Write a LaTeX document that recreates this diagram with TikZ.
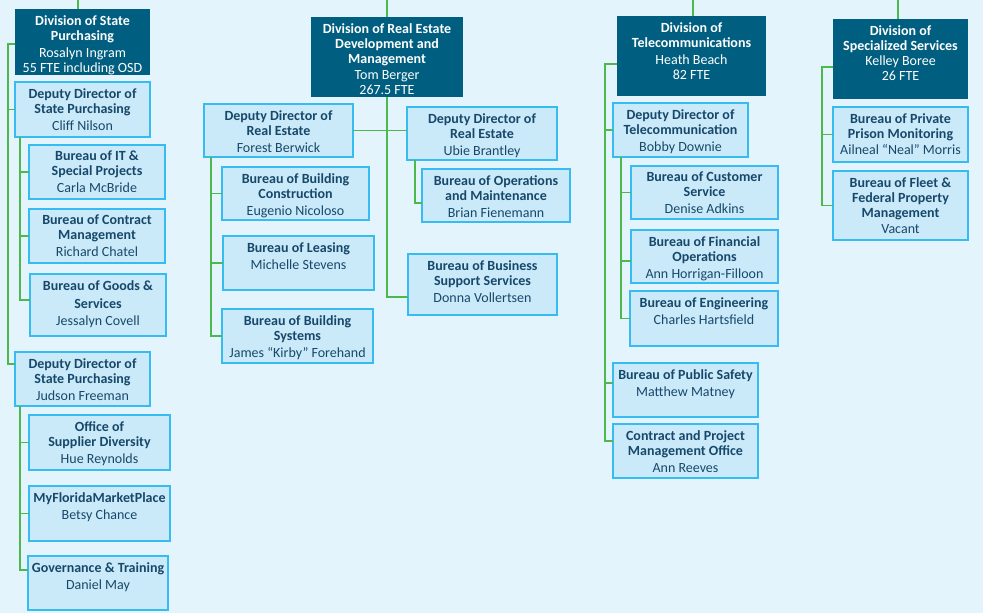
\documentclass[tikz,border=0pt]{standalone}
\usepackage{fontspec}
\setmainfont{Carlito}
\usetikzlibrary{calc}
\definecolor{bgc}{HTML}{E4F4FC}
\definecolor{darkbox}{HTML}{005F80}
\definecolor{lightfill}{HTML}{CAEAFA}
\definecolor{lightline}{HTML}{36BCF0}
\definecolor{navy}{HTML}{17486A}
\definecolor{conngreen}{HTML}{4DB84E}
\tikzset{
  dbox/.style={rectangle,fill=darkbox,draw=none,inner sep=0pt,outer sep=0pt},
  lbox/.style={rectangle,fill=lightfill,draw=lightline,line width=1.2pt,inner sep=0pt,outer sep=0pt},
  dboxtxt/.style={text=white,align=center,inner sep=0pt,font=\fontsize{14}{15}\selectfont},
  lboxtxt/.style={text=navy,align=center,inner sep=0pt,font=\fontsize{14}{15}\selectfont},
  conn/.style={draw=conngreen,line width=1.8pt}
}
\newcommand\tb[1]{\textbf{#1}}
\newcommand\bx[7]{%
  \node[#6,anchor=north west,minimum width={#4pt-#2pt},minimum height={#5pt-#3pt}] (#1) at (#2,#3) {};
  \node[#6txt,anchor=north] (#1t) at ([yshift=-6pt]#1.north) {#7};}
\begin{document}
\begin{tikzpicture}[x=1pt,y=-1pt]
\useasboundingbox (0,0) rectangle (983,613);
\fill[bgc] (0,0) rectangle (983,613);
% ---------- column 1
\bx{divsp}{15}{9}{150}{75}{dbox}{\tb{Division of State}\\\tb{Purchasing}\\[2pt]Rosalyn Ingram\\55 FTE including OSD}
\bx{cliff}{15}{82}{150}{137}{lbox}{\tb{Deputy Director of}\\\tb{State Purchasing}\\[2pt]Cliff Nilson}
\bx{it}{29}{145}{165}{199}{lbox}{\tb{Bureau of IT \&}\\\tb{Special Projects}\\[2pt]Carla McBride}
\bx{cm}{29}{209}{165}{263}{lbox}{\tb{Bureau of Contract}\\\tb{Management}\\[2pt]Richard Chatel}
\bx{goods}{30}{274}{166}{336}{lbox}{\tb{Bureau of Goods \&}\\[3pt]\tb{Services}\\[2pt]Jessalyn Covell}
\bx{judson}{15}{352}{150}{406}{lbox}{\tb{Deputy Director of}\\\tb{State Purchasing}\\[2pt]Judson Freeman}
\bx{osd}{29}{415}{170}{470}{lbox}{\tb{Office of}\\\tb{Supplier Diversity}\\[2pt]Hue Reynolds}
\bx{mfmp}{29}{486}{170}{541}{lbox}{\tb{MyFloridaMarketPlace}\\[2pt]Betsy Chance}
\bx{gov}{28}{556}{168}{610}{lbox}{\tb{Governance \& Training}\\[2pt]Daniel May}
% ---------- column 2
\bx{divre}{311}{17}{463}{97}{dbox}{\tb{Division of Real Estate}\\\tb{Development and}\\\tb{Management}\\[1pt]Tom Berger\\267.5 FTE}
\bx{forest}{204}{104}{353}{157}{lbox}{\tb{Deputy Director of}\\\tb{Real Estate}\\[2pt]Forest Berwick}
\bx{bc}{222}{167}{369}{220}{lbox}{\tb{Bureau of Building}\\\tb{Construction}\\[2pt]Eugenio Nicoloso}
\bx{leas}{223}{236}{374}{290}{lbox}{\tb{Bureau of Leasing}\\[2pt]Michelle Stevens}
\bx{sys}{222}{309}{373}{363}{lbox}{\tb{Bureau of Building}\\\tb{Systems}\\[2pt]James “Kirby” Forehand}
\bx{ubie}{407}{107}{557}{160}{lbox}{\tb{Deputy Director of}\\\tb{Real Estate}\\[2pt]Ubie Brantley}
\bx{om}{422}{169}{570}{222}{lbox}{\tb{Bureau of Operations}\\\tb{and Maintenance}\\[2pt]Brian Fienemann}
\bx{bus}{408}{254}{557}{315}{lbox}{\tb{Bureau of Business}\\\tb{Support Services}\\[2pt]Donna Vollertsen}
% ---------- column 3
\bx{divtc}{617}{16}{766}{96}{dbox}{\tb{Division of}\\\tb{Telecommunications}\\[2pt]Heath Beach\\82 FTE}
\bx{bobby}{613}{103}{748}{157}{lbox}{\tb{Deputy Director of}\\\tb{Telecommunication}\\[2pt]Bobby Downie}
\bx{cs}{631}{166}{778}{219}{lbox}{\tb{Bureau of Customer}\\\tb{Service}\\[2pt]Denise Adkins}
\bx{fo}{631}{230}{778}{283}{lbox}{\tb{Bureau of Financial}\\\tb{Operations}\\[2pt]Ann Horrigan-Filloon}
\bx{eng}{630}{291}{778}{346}{lbox}{\tb{Bureau of Engineering}\\[2pt]Charles Hartsfield}
\bx{ps}{613}{363}{758}{417}{lbox}{\tb{Bureau of Public Safety}\\[2pt]Matthew Matney}
\bx{cpm}{613}{424}{758}{478}{lbox}{\tb{Contract and Project}\\\tb{Management Office}\\[2pt]Ann Reeves}
% ---------- column 4
\bx{divss}{833}{19}{968}{99}{dbox}{\tb{Division of}\\\tb{Specialized Services}\\Kelley Boree\\26 FTE}
\bx{pp}{833}{107}{968}{162}{lbox}{\tb{Bureau of Private}\\\tb{Prison Monitoring}\\[1pt]Ailneal “Neal” Morris}
\bx{fleet}{833}{171}{968}{240}{lbox}{\tb{Bureau of Fleet \&}\\\tb{Federal Property}\\\tb{Management}\\[1pt]Vacant}
% ---------- trunk coordinates
\coordinate (t1) at (8,0);
\coordinate (t2) at (20,0);
\coordinate (t3) at (211,0);
\coordinate (t4) at (415,0);
\coordinate (t5) at (605,0);
\coordinate (t6) at (621,0);
\coordinate (t7) at (822,0);
\path (divsp.north west) ++(0,35) coordinate (dspw);
\path (judson.north west) ++(0,12) coordinate (jw);
\path (gov.north west) ++(0,14) coordinate (gw);
\path (goods.north west) ++(0,26) coordinate (gdw);
\path (bus.north west) ++(0,43) coordinate (bw);
\path (om.north west) ++(0,34) coordinate (omw);
\path (divtc.north west) ++(0,48) coordinate (dtw);
\path (fo.north west) ++(0,31) coordinate (fow);
\path (ps.north west) ++(0,20) coordinate (psw);
\path (cpm.north west) ++(0,17) coordinate (cpw);
\path (divss.north west) ++(0,48) coordinate (dsw);
% ---------- connectors column 1
\draw[conn] (divsp.north -| 78,0) -- (78,0);
\draw[conn] (dspw) -| (t1 |- jw) -- (jw);
\draw[conn] (t1 |- cliff.west) -- (cliff.west);
\draw[conn] (t2 |- cliff.south) |- (gdw);
\draw[conn] (t2 |- it.west) -- (it.west);
\draw[conn] (t2 |- cm.west) -- (cm.west);
\draw[conn] (t2 |- judson.south) |- (gw);
\draw[conn] (t2 |- osd.west) -- (osd.west);
\draw[conn] (t2 |- mfmp.west) -- (mfmp.west);
% ---------- connectors column 2
\draw[conn] (divre.north) -- (divre.north |- 0,0);
\draw[conn] (divre.south) |- (bw);
\draw[conn] (forest.east) -- (forest.east -| ubie.west);
\draw[conn] (t3 |- forest.south) |- (sys.west);
\draw[conn] (t3 |- bc.west) -- (bc.west);
\draw[conn] (t3 |- leas.west) -- (leas.west);
\draw[conn] (t4 |- ubie.south) |- (omw);
% ---------- connectors column 3
\draw[conn] (divtc.north -| 693,0) -- (693,0);
\draw[conn] (dtw) -| (t5 |- cpw) -- (cpw);
\draw[conn] (t5 |- bobby.west) -- (bobby.west);
\draw[conn] (t5 |- psw) -- (psw);
\draw[conn] (t6 |- bobby.south) |- (eng.west);
\draw[conn] (t6 |- cs.west) -- (cs.west);
\draw[conn] (t6 |- fow) -- (fow);
% ---------- connectors column 4
\draw[conn] (divss.north -| 898,0) -- (898,0);
\draw[conn] (dsw) -| (t7 |- fleet.west) -- (fleet.west);
\draw[conn] (t7 |- pp.west) -- (pp.west);
\end{tikzpicture}
\end{document}
